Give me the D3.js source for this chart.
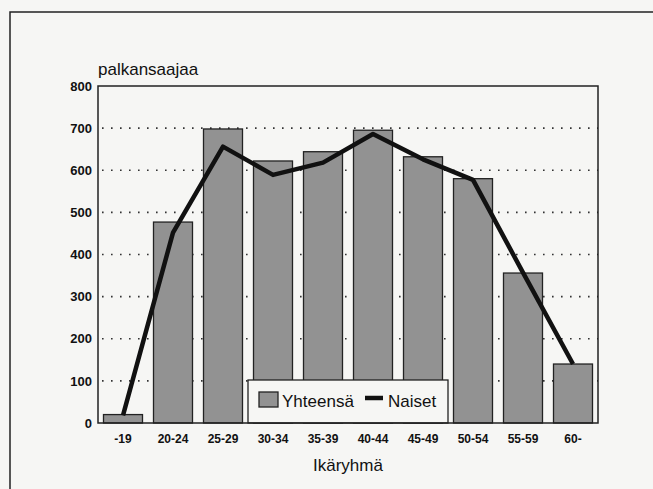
<!DOCTYPE html>
<html>
<head>
<meta charset="utf-8">
<script src="https://cdn.jsdelivr.net/npm/d3@7"></script>
<style>
  body { margin: 0; background: #f6f6f4; }
  text { font-family: "Liberation Sans", Arial, sans-serif; fill: #111; }
</style>
</head>
<body>
<div id="chart"></div>
<script>
// data
const ageGroups = ["-19", "20-24", "25-29", "30-34", "35-39", "40-44", "45-49", "50-54", "55-59", "60-"];
const yhteensa = [20, 477, 698, 622, 644, 695, 632, 580, 356, 140];
const naiset = [18, 452, 656, 589, 618, 686, 626, 577, 357, 140];
const yTicks = [0, 100, 200, 300, 400, 500, 600, 700, 800];

const width = 653, height = 489;
const margin = { top: 86, right: 55, bottom: 66, left: 98 };

const svg = d3.select("#chart").append("svg")
  .attr("width", width)
  .attr("height", height);

// outer frame (top + left edge)
svg.append("path")
  .attr("d", `M10,${height} L10,12 L${width},12`)
  .attr("fill", "none")
  .attr("stroke", "#222")
  .attr("stroke-width", 1.5);

const x = d3.scaleBand()
  .domain(ageGroups)
  .range([margin.left, width - margin.right])
  .paddingInner(0.22)
  .paddingOuter(0.11);

const y = d3.scaleLinear()
  .domain([0, 800])
  .range([height - margin.bottom, margin.top]);

// dotted gridlines
svg.append("g")
  .selectAll("line")
  .data(yTicks.filter(d => d > 0 && d < 800))
  .join("line")
  .attr("x1", margin.left + 4)
  .attr("x2", width - margin.right)
  .attr("y1", d => y(d))
  .attr("y2", d => y(d))
  .attr("stroke", "#333")
  .attr("stroke-width", 1.6)
  .attr("stroke-dasharray", "1.6,7.4");

// bars
svg.append("g")
  .selectAll("rect")
  .data(ageGroups)
  .join("rect")
  .attr("x", d => x(d))
  .attr("width", x.bandwidth())
  .attr("y", (d, i) => y(yhteensa[i]))
  .attr("height", (d, i) => y(0) - y(yhteensa[i]))
  .attr("fill", "#929292")
  .attr("stroke", "#222")
  .attr("stroke-width", 1.3);

// line Naiset
const line = d3.line()
  .x((d, i) => x(ageGroups[i]) + x.bandwidth() / 2)
  .y(d => y(d));

svg.append("path")
  .datum(naiset)
  .attr("d", line)
  .attr("fill", "none")
  .attr("stroke", "#111")
  .attr("stroke-width", 4.5)
  .attr("stroke-linejoin", "round");

// legend
const lg = svg.append("g");
lg.append("rect")
  .attr("x", 248).attr("y", 380)
  .attr("width", 200).attr("height", y(0) - 380)
  .attr("fill", "#f6f6f4")
  .attr("stroke", "#222")
  .attr("stroke-width", 1.3);
lg.append("rect")
  .attr("x", 259).attr("y", 392)
  .attr("width", 19).attr("height", 15)
  .attr("fill", "#929292")
  .attr("stroke", "#222")
  .attr("stroke-width", 1.3);
lg.append("text")
  .attr("x", 282).attr("y", 407)
  .attr("font-size", 17)
  .text("Yhteensä");
lg.append("line")
  .attr("x1", 365).attr("x2", 383)
  .attr("y1", 398).attr("y2", 398)
  .attr("stroke", "#111")
  .attr("stroke-width", 4.5);
lg.append("text")
  .attr("x", 388).attr("y", 407)
  .attr("font-size", 17)
  .text("Naiset");

// plot frame
svg.append("rect")
  .attr("x", margin.left)
  .attr("y", margin.top)
  .attr("width", width - margin.right - margin.left)
  .attr("height", height - margin.bottom - margin.top)
  .attr("fill", "none")
  .attr("stroke", "#222")
  .attr("stroke-width", 1.5);

// y axis labels
svg.append("g")
  .selectAll("text")
  .data(yTicks)
  .join("text")
  .attr("x", margin.left - 6)
  .attr("y", d => y(d))
  .attr("dy", "0.36em")
  .attr("text-anchor", "end")
  .attr("font-size", 13)
  .attr("font-weight", "bold")
  .text(d => d);

// x axis labels
svg.append("g")
  .selectAll("text")
  .data(ageGroups)
  .join("text")
  .attr("x", d => x(d) + x.bandwidth() / 2)
  .attr("y", 443)
  .attr("text-anchor", "middle")
  .attr("font-size", 12)
  .attr("font-weight", "bold")
  .text(d => d);

// titles
svg.append("text")
  .attr("x", margin.left)
  .attr("y", 75)
  .attr("font-size", 17)
  .text("palkansaajaa");

svg.append("text")
  .attr("x", (margin.left + width - margin.right) / 2)
  .attr("y", 471)
  .attr("text-anchor", "middle")
  .attr("font-size", 17)
  .text("Ikäryhmä");
</script>
</body>
</html>
